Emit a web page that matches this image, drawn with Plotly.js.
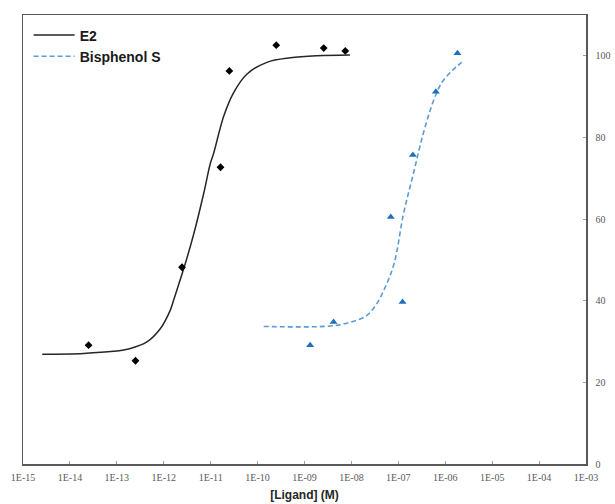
<!DOCTYPE html>
<html>
<head>
<meta charset="utf-8">
<script src="https://cdn.plot.ly/plotly-3.0.1.min.js"></script>
<style>html,body{margin:0;padding:0;background:#fff;}#chart{width:615px;height:504px;}</style>
</head>
<body>
<div id="chart"></div>
<script>
// Tick labels
const xTickVals = [1e-15,1e-14,1e-13,1e-12,1e-11,1e-10,1e-9,1e-8,1e-7,1e-6,1e-5,1e-4,1e-3];
const xTickText = ["1E-15","1E-14","1E-13","1E-12","1E-11","1E-10","1E-09","1E-08","1E-07","1E-06","1E-05","1E-04","1E-03"];
const yTickVals = [0,20,40,60,80,100];

// E2 measured points
const e2X = [2.5e-14, 2.5e-13, 2.45e-12, 1.62e-11, 2.5e-11, 2.5e-10, 2.57e-9, 7.4e-9];
const e2Y = [29.1, 25.3, 48.2, 72.7, 96.3, 102.6, 101.9, 101.2];

// E2 fitted curve
const e2CurveX = [2.57e-15, 1.95e-14, 8.5e-14, 1.95e-13, 4.37e-13, 8.5e-13, 1.38e-12, 1.62e-12, 2.88e-12, 4.37e-12, 7.08e-12, 9.77e-12, 1.15e-11, 1.91e-11, 3.09e-11, 5.89e-11, 1.58e-10, 5.0e-10, 1.86e-9, 9.3e-9];
const e2CurveY = [26.9, 27.1, 27.6, 28.3, 29.9, 33.2, 37.7, 40.1, 49.1, 56.4, 66.2, 73.5, 76.0, 85.3, 91.0, 95.5, 98.4, 99.5, 100.0, 100.2];

// Bisphenol S measured points
const bpsX = [1.32e-9, 4.17e-9, 6.9e-8, 1.23e-7, 2.04e-7, 6.3e-7, 1.82e-6];
const bpsY = [29.1, 34.8, 60.5, 39.7, 75.7, 91.2, 100.6];

// Bisphenol S fitted curve
const bpsCurveX = [1.35e-10, 3.55e-9, 9.3e-9, 2.14e-8, 3.47e-8, 5.25e-8, 8.13e-8, 1.29e-7, 2.09e-7, 3.39e-7, 5.62e-7, 8.51e-7, 1.38e-6, 2.24e-6];
const bpsCurveY = [33.7, 33.8, 34.7, 36.4, 39.3, 43.3, 49.1, 61.3, 71.1, 80.9, 89.0, 93.5, 96.3, 98.4];

const traces = [
  {x: e2CurveX, y: e2CurveY, mode: 'lines', name: 'E2', line: {color: '#262626', width: 1.5, shape: 'spline', smoothing: 1}, hoverinfo: 'skip'},
  {x: bpsCurveX, y: bpsCurveY, mode: 'lines', name: 'Bisphenol S', line: {color: '#5B9BD5', width: 1.6, dash: '5px,3px', shape: 'spline'}, hoverinfo: 'skip'},
  {x: e2X, y: e2Y, mode: 'markers', name: 'E2 data', showlegend: false, marker: {symbol: 'diamond', size: 6, color: '#000000'}},
  {x: bpsX, y: bpsY, mode: 'markers', name: 'BPS data', showlegend: false, marker: {symbol: 'triangle-up', size: 7, color: '#1F6FBF'}}
];

const layout = {
  width: 615, height: 504,
  margin: {l: 22.5, r: 29, t: 14.5, b: 40},
  paper_bgcolor: '#ffffff', plot_bgcolor: '#ffffff',
  showlegend: true,
  legend: {x: 0.01, y: 0.99, xanchor: 'left', yanchor: 'top', bgcolor: 'rgba(0,0,0,0)',
           font: {family: 'Liberation Sans, Arial, sans-serif', size: 14, color: '#1a1a1a', weight: 'bold'}, tracegroupgap: 0, itemwidth: 41},
  xaxis: {
    type: 'log', range: [-15, -3], tickvals: xTickVals, ticktext: xTickText,
    showline: true, linecolor: '#595959', linewidth: 1.5, mirror: true,
    ticks: 'inside', ticklen: 3, tickcolor: '#a0a0a0', showgrid: false, zeroline: false,
    tickfont: {family: 'Liberation Serif, DejaVu Serif, serif', size: 10, color: '#595959'},
    ticklabelstandoff: 3,
    title: {text: '[Ligand] (M)', font: {family: 'Liberation Sans, Arial, sans-serif', size: 12, color: '#262626', weight: 'bold'}, standoff: 9},
    automargin: false
  },
  yaxis: {
    range: [0, 110], side: 'right', tickvals: yTickVals,
    showline: true, linecolor: '#595959', linewidth: 1.5, mirror: true,
    ticks: 'inside', ticklen: 3, tickcolor: '#a0a0a0', showgrid: false, zeroline: false,
    tickfont: {family: 'Liberation Serif, DejaVu Serif, serif', size: 10, color: '#595959'},
    ticklabelstandoff: 6,
    automargin: false
  }
};

Plotly.newPlot('chart', traces, layout, {displayModeBar: false, staticPlot: true});
</script>
</body>
</html>
